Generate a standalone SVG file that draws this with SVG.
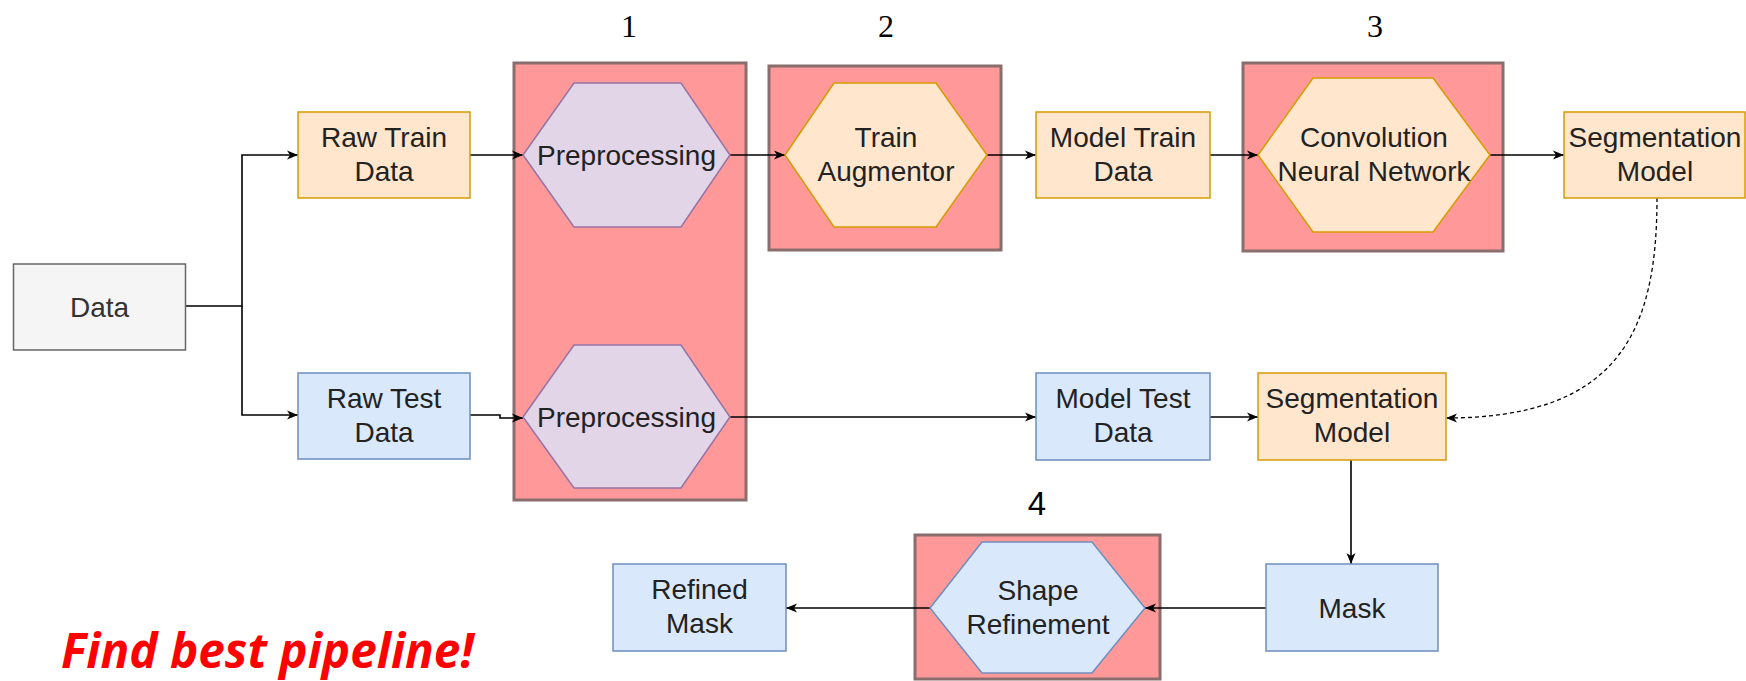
<svg xmlns="http://www.w3.org/2000/svg" width="1746" height="681" viewBox="0 0 1746 681">
  <defs>
    <marker id="arrow" markerUnits="userSpaceOnUse" markerWidth="12" markerHeight="10" refX="11" refY="5" orient="auto">
      <path d="M0,0.5 L11,5 L0,9.5 L3,5 Z" fill="#000"/>
    </marker>
  </defs>
  <style>
    .stage { fill: #ff9999; stroke: #8a6d6d; stroke-width: 3; }
    .orange { fill: #ffe6cc; stroke: #d79b00; stroke-width: 1.5; }
    .blue { fill: #dae8fc; stroke: #6c8ebf; stroke-width: 1.5; }
    .purple { fill: #e1d5e7; stroke: #9673a6; stroke-width: 1.5; }
    .gray { fill: #f5f5f5; stroke: #666666; stroke-width: 1.5; }
    .lbl { font-family: "Liberation Sans", Arial, sans-serif; font-size: 28px; fill: #222; text-anchor: middle; }
    .num { font-family: "Liberation Serif", "DejaVu Serif", serif; font-size: 32px; fill: #000; text-anchor: middle; }
    .edge { fill: none; stroke: #000; stroke-width: 1.6; marker-end: url(#arrow); }
    .dashed { fill: none; stroke: #000; stroke-width: 1.3; stroke-dasharray: 4 3; marker-end: url(#arrow); }
  </style>
  <rect width="1746" height="681" fill="#ffffff"/>

  <!-- stage panels with their numbers -->
  <g id="stage1">
    <rect class="stage" x="514" y="63" width="232" height="437"/>
    <text class="num" x="629" y="37">1</text>
  </g>
  <g id="stage2">
    <rect class="stage" x="769" y="66" width="232" height="184"/>
    <text class="num" x="886" y="37">2</text>
  </g>
  <g id="stage3">
    <rect class="stage" x="1243" y="63" width="260" height="188"/>
    <text class="num" x="1375" y="37">3</text>
  </g>
  <g id="stage4">
    <rect class="stage" x="915" y="535" width="245" height="144"/>
    <text class="lbl" x="1037" y="515" style="font-size:33px;fill:#000">4</text>
  </g>

  <!-- connectors -->
  <g id="connectors">
    <path class="edge" d="M186,306 H242 V155 H298"/>
    <path class="edge" d="M242,306 V415 H298"/>
    <path class="edge" d="M470,155 H523"/>
    <path class="edge" d="M470,415 H500 V418 H523"/>
    <path class="edge" d="M730,155 H785"/>
    <path class="edge" d="M987,155 H1036"/>
    <path class="edge" d="M1210,155 H1258"/>
    <path class="edge" d="M1490,155 H1564"/>
    <path class="edge" d="M730,417 H1036"/>
    <path class="edge" d="M1210,417 H1258"/>
    <path class="dashed" d="M1657,198 C1657,330 1620,418 1446,418"/>
    <path class="edge" d="M1351,460 V564"/>
    <path class="edge" d="M1266,608 H1145"/>
    <path class="edge" d="M930,608 H786"/>
  </g>

  <!-- nodes -->
  <g id="data">
    <rect class="gray" x="13.5" y="264" width="172" height="86"/>
    <text class="lbl" x="99.5" y="317" style="fill:#333">Data</text>
  </g>
  <g id="raw-train">
    <rect class="orange" x="298" y="112" width="172" height="86"/>
    <text class="lbl" x="384" y="147">Raw Train</text>
    <text class="lbl" x="384" y="181">Data</text>
  </g>
  <g id="raw-test">
    <rect class="blue" x="298" y="373" width="172" height="86"/>
    <text class="lbl" x="384" y="408">Raw Test</text>
    <text class="lbl" x="384" y="442">Data</text>
  </g>
  <g id="preprocessing-train">
    <polygon class="purple" points="523,155 574,83 681,83 730,155 681,227 574,227"/>
    <text class="lbl" x="626.5" y="165">Preprocessing</text>
  </g>
  <g id="preprocessing-test">
    <polygon class="purple" points="523,417 574,345 681,345 730,417 681,488 574,488"/>
    <text class="lbl" x="626.5" y="427">Preprocessing</text>
  </g>
  <g id="train-augmentor">
    <polygon class="orange" points="785,155 834,83 936,83 987,155 936,227 834,227"/>
    <text class="lbl" x="886" y="147">Train</text>
    <text class="lbl" x="886" y="181">Augmentor</text>
  </g>
  <g id="model-train-data">
    <rect class="orange" x="1036" y="112" width="174" height="86"/>
    <text class="lbl" x="1123" y="147">Model Train</text>
    <text class="lbl" x="1123" y="181">Data</text>
  </g>
  <g id="cnn">
    <polygon class="orange" points="1258,155 1313,78 1433,78 1490,155 1433,232 1313,232"/>
    <text class="lbl" x="1374" y="147">Convolution</text>
    <text class="lbl" x="1374" y="181">Neural Network</text>
  </g>
  <g id="segmentation-model-train">
    <rect class="orange" x="1564" y="112" width="181" height="86"/>
    <text class="lbl" x="1655" y="147">Segmentation</text>
    <text class="lbl" x="1655" y="181">Model</text>
  </g>
  <g id="model-test-data">
    <rect class="blue" x="1036" y="373" width="174" height="87"/>
    <text class="lbl" x="1123" y="408">Model Test</text>
    <text class="lbl" x="1123" y="442">Data</text>
  </g>
  <g id="segmentation-model-test">
    <rect class="orange" x="1258" y="373" width="188" height="87"/>
    <text class="lbl" x="1352" y="408">Segmentation</text>
    <text class="lbl" x="1352" y="442">Model</text>
  </g>
  <g id="mask">
    <rect class="blue" x="1266" y="564" width="172" height="87"/>
    <text class="lbl" x="1352" y="617.5">Mask</text>
  </g>
  <g id="shape-refinement">
    <polygon class="blue" points="930,608 982,542 1092,542 1145,608 1092,673 982,673"/>
    <text class="lbl" x="1038" y="600">Shape</text>
    <text class="lbl" x="1038" y="634">Refinement</text>
  </g>
  <g id="refined-mask">
    <rect class="blue" x="613" y="564" width="173" height="87"/>
    <text class="lbl" x="699.5" y="599">Refined</text>
    <text class="lbl" x="699.5" y="633">Mask</text>
  </g>

  <text x="61" y="668" textLength="413" lengthAdjust="spacingAndGlyphs" style="font-family:'Open Sans','Noto Sans',sans-serif;font-weight:700;font-style:italic;font-size:48px;fill:#ff0000">Find best pipeline!</text>
</svg>
